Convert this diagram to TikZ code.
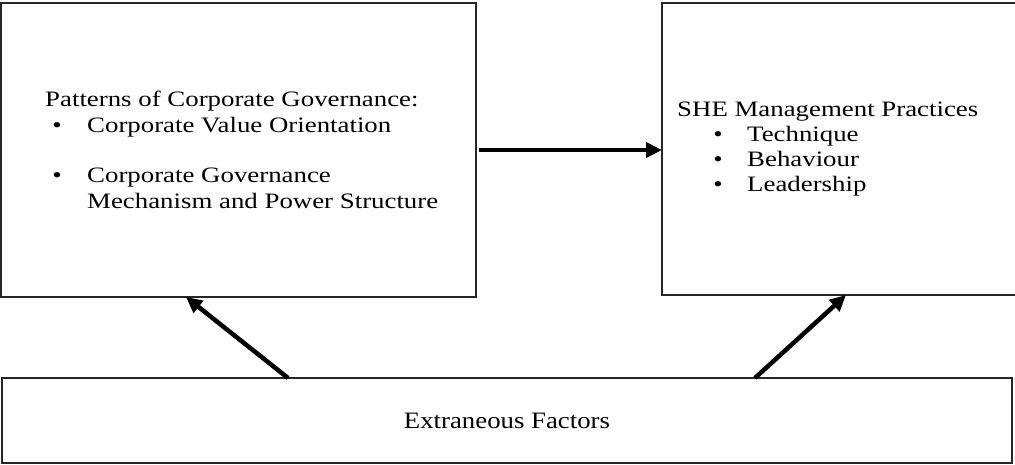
\documentclass[tikz,border=0pt]{standalone}
\usepackage{fontspec}
\setmainfont{Liberation Serif}
% slightly widened serif faces for the box texts
\newfontfamily\boxfont[FakeStretch=1.22]{Liberation Serif}
\newfontfamily\extfont[FakeStretch=1.14]{Liberation Serif}
\usetikzlibrary{arrows.meta}

\begin{document}
\begin{tikzpicture}[x=1pt,y=-1pt,
  panel/.style={draw=black!85, line width=1.6pt, inner sep=0pt, outer sep=0pt},
  txt/.style={anchor=base west, inner sep=0pt, font=\boxfont\fontsize{22}{26}\selectfont},
  bul/.style={anchor=base, inner sep=0pt, font=\boxfont\fontsize{22}{26}\selectfont},
  link/.style={line width=4.5pt, -{Triangle[length=16pt,width=15pt]}}]
\useasboundingbox (0,0) rectangle (1015,464);

% the three boxes
\node[panel, minimum width=475pt, minimum height=294pt] (pcg) at (238.5,150) {};
\node[panel, minimum width=354pt, minimum height=292pt] (she) at (839,149) {};
\node[panel, minimum width=1010pt, minimum height=85pt] (ext) at (507,420.5) {};

% left box: patterns of corporate governance
\node[txt] (pcgtitle) at (45,106) {Patterns of Corporate Governance:};
\node[bul] (pcgb1) at (57,132) {\textbullet};
\node[txt] (pcgi1) at (87,132) {Corporate Value Orientation};
\node[bul] (pcgb2) at (57,182) {\textbullet};
\node[txt] (pcgi2) at (87,182) {Corporate Governance};
\node[txt] (pcgi2b) at (87,208) {Mechanism and Power Structure};

% right box: SHE management practices
\node[txt] (shetitle) at (677,116) {SHE Management Practices};
\node[bul] (sheb1) at (718,141) {\textbullet};
\node[txt] (shei1) at (747,141) {Technique};
\node[bul] (sheb2) at (718,166) {\textbullet};
\node[txt] (shei2) at (747,166) {Behaviour};
\node[bul] (sheb3) at (718,191) {\textbullet};
\node[txt] (shei3) at (747,191) {Leadership};

% bottom box
\node[inner sep=0pt, font=\extfont\fontsize{23.5}{28}\selectfont] (exttxt) at (ext.center) {Extraneous Factors};

% connectors
\draw[link] ([xshift=3pt]pcg.east) -- (she.west |- pcg.east);
\draw[link] ([xshift=286pt]ext.north west) -- ([xshift=185pt]pcg.south west);
\draw[link] ([xshift=753pt]ext.north west) -- ([xshift=184pt]she.south west);
\end{tikzpicture}
\end{document}
